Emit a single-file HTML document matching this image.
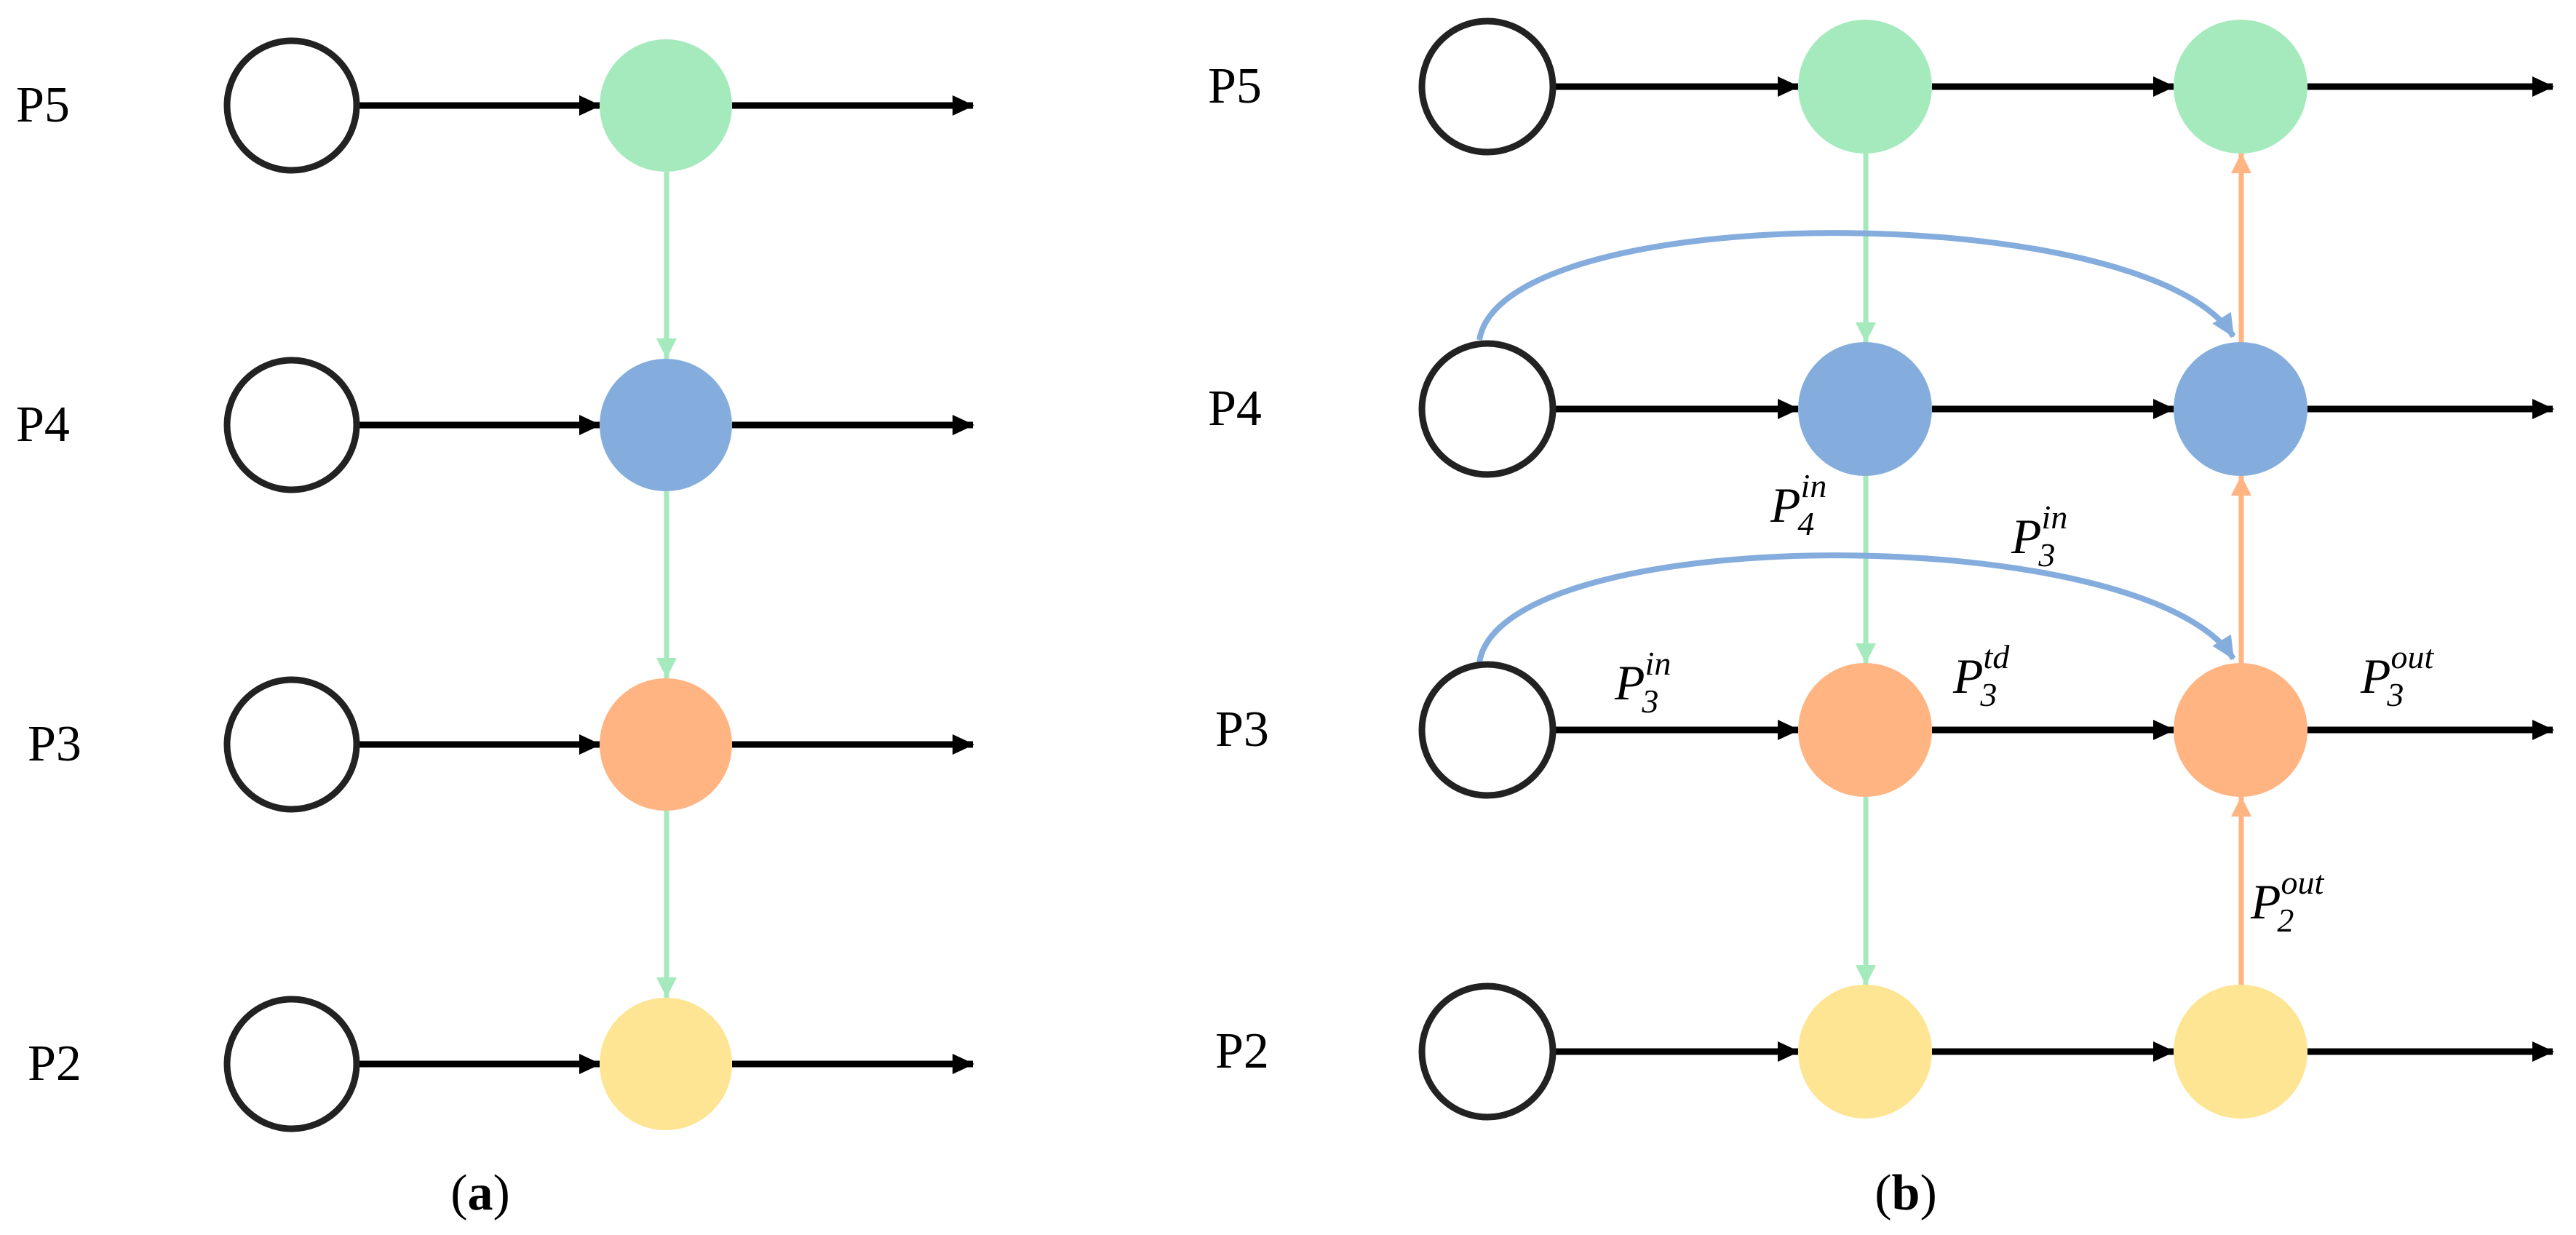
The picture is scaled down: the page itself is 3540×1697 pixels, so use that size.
<!DOCTYPE html>
<html><head><meta charset="utf-8"><style>html,body{margin:0;padding:0;background:#fff}svg{display:block}</style></head>
<body>
<svg width="3540" height="1697" viewBox="0 0 3540 1697" xmlns="http://www.w3.org/2000/svg">
<defs>
<marker id="ab" markerWidth="30" markerHeight="28" refX="28" refY="14" orient="auto" markerUnits="userSpaceOnUse"><path d="M0,0 L30,14 L0,28 z" fill="#000"/></marker>
<marker id="ag" markerWidth="28" markerHeight="28" refX="28" refY="14" orient="auto" markerUnits="userSpaceOnUse"><path d="M0,0 L28,14 L0,28 z" fill="#A5EABD"/></marker>
<marker id="ao" markerWidth="28" markerHeight="28" refX="28" refY="14" orient="auto" markerUnits="userSpaceOnUse"><path d="M0,0 L28,14 L0,28 z" fill="#FFB482"/></marker>
<marker id="abl" markerWidth="32" markerHeight="30" refX="30" refY="15" orient="auto" markerUnits="userSpaceOnUse"><path d="M0,0 L32,15 L0,30 z" fill="#84ADDD"/></marker>
</defs>
<g font-family="Liberation Serif, serif" font-size="70" fill="#000">
<text x="22" y="167">P5</text><text x="22" y="606">P4</text><text x="38" y="1045">P3</text><text x="38" y="1484">P2</text>
<text x="1660" y="141">P5</text><text x="1660" y="584">P4</text><text x="1670" y="1025">P3</text><text x="1670" y="1467">P2</text>
<text x="660" y="1662" text-anchor="middle">(<tspan font-weight="bold">a</tspan>)</text>
<text x="2619" y="1662" text-anchor="middle">(<tspan font-weight="bold">b</tspan>)</text>
</g>
<!-- panel a -->
<g stroke="#000" stroke-width="9">
<line x1="494" y1="145" x2="824" y2="145" marker-end="url(#ab)"/><line x1="1006" y1="145" x2="1337" y2="145" marker-end="url(#ab)"/>
<line x1="494" y1="584" x2="824" y2="584" marker-end="url(#ab)"/><line x1="1006" y1="584" x2="1337" y2="584" marker-end="url(#ab)"/>
<line x1="494" y1="1023" x2="824" y2="1023" marker-end="url(#ab)"/><line x1="1006" y1="1023" x2="1337" y2="1023" marker-end="url(#ab)"/>
<line x1="494" y1="1462" x2="824" y2="1462" marker-end="url(#ab)"/><line x1="1006" y1="1462" x2="1337" y2="1462" marker-end="url(#ab)"/>
</g>
<g stroke="#A5EABD" stroke-width="7">
<line x1="916" y1="236" x2="916" y2="493" marker-end="url(#ag)"/>
<line x1="916" y1="675" x2="916" y2="932" marker-end="url(#ag)"/>
<line x1="916" y1="1114" x2="916" y2="1371" marker-end="url(#ag)"/>
</g>
<g fill="none" stroke="#222" stroke-width="9">
<circle cx="401" cy="145" r="89"/><circle cx="401" cy="584" r="89"/><circle cx="401" cy="1023" r="89"/><circle cx="401" cy="1462" r="89"/>
</g>
<circle cx="915" cy="145" r="91" fill="#A5EABD"/><circle cx="915" cy="584" r="91" fill="#84ADDD"/><circle cx="915" cy="1023" r="91" fill="#FFB482"/><circle cx="915" cy="1462" r="91" fill="#FEE594"/>
<!-- panel b -->
<g stroke="#000" stroke-width="9">
<line x1="2137" y1="119" x2="2471" y2="119" marker-end="url(#ab)"/><line x1="2655" y1="119" x2="2987" y2="119" marker-end="url(#ab)"/><line x1="3171" y1="119" x2="3508" y2="119" marker-end="url(#ab)"/>
<line x1="2137" y1="562" x2="2471" y2="562" marker-end="url(#ab)"/><line x1="2655" y1="562" x2="2987" y2="562" marker-end="url(#ab)"/><line x1="3171" y1="562" x2="3508" y2="562" marker-end="url(#ab)"/>
<line x1="2137" y1="1003" x2="2471" y2="1003" marker-end="url(#ab)"/><line x1="2655" y1="1003" x2="2987" y2="1003" marker-end="url(#ab)"/><line x1="3171" y1="1003" x2="3508" y2="1003" marker-end="url(#ab)"/>
<line x1="2137" y1="1445" x2="2471" y2="1445" marker-end="url(#ab)"/><line x1="2655" y1="1445" x2="2987" y2="1445" marker-end="url(#ab)"/><line x1="3171" y1="1445" x2="3508" y2="1445" marker-end="url(#ab)"/>
</g>
<g stroke="#A5EABD" stroke-width="7">
<line x1="2564" y1="210" x2="2564" y2="471" marker-end="url(#ag)"/>
<line x1="2564" y1="653" x2="2564" y2="912" marker-end="url(#ag)"/>
<line x1="2564" y1="1094" x2="2564" y2="1354" marker-end="url(#ag)"/>
</g>
<g stroke="#FFB482" stroke-width="7">
<line x1="3080" y1="1354" x2="3080" y2="1094" marker-end="url(#ao)"/>
<line x1="3080" y1="912" x2="3080" y2="653" marker-end="url(#ao)"/>
<line x1="3080" y1="471" x2="3080" y2="210" marker-end="url(#ao)"/>
</g>
<g fill="none" stroke="#84ADDD" stroke-width="8">
<path d="M2033,467 C2065,272 2950,272 3069,462" marker-end="url(#abl)"/>
<path d="M2033,910 C2065,715 2950,715 3069,905" marker-end="url(#abl)"/>
</g>
<g fill="none" stroke="#222" stroke-width="9">
<circle cx="2044" cy="119" r="90"/><circle cx="2044" cy="562" r="90"/><circle cx="2044" cy="1003" r="90"/><circle cx="2044" cy="1445" r="90"/>
</g>
<circle cx="2563" cy="119" r="92" fill="#A5EABD"/><circle cx="3079" cy="119" r="92" fill="#A5EABD"/>
<circle cx="2563" cy="562" r="92" fill="#84ADDD"/><circle cx="3079" cy="562" r="92" fill="#84ADDD"/>
<circle cx="2563" cy="1003" r="92" fill="#FFB482"/><circle cx="3079" cy="1003" r="92" fill="#FFB482"/>
<circle cx="2563" cy="1445" r="92" fill="#FEE594"/><circle cx="3079" cy="1445" r="92" fill="#FEE594"/>
<g font-family="Liberation Serif, serif" font-style="italic" fill="#000">
<text x="2433" y="717" font-size="68">P<tspan font-size="46" dy="-34">in</tspan><tspan font-size="46" dx="-40" dy="52">4</tspan></text>
<text x="2764" y="760" font-size="68">P<tspan font-size="46" dy="-34">in</tspan><tspan font-size="46" dx="-40" dy="52">3</tspan></text>
<text x="2219" y="961" font-size="68">P<tspan font-size="46" dy="-34">in</tspan><tspan font-size="46" dx="-40" dy="52">3</tspan></text>
<text x="2684" y="952" font-size="68">P<tspan font-size="46" dy="-34">td</tspan><tspan font-size="46" dx="-40" dy="52">3</tspan></text>
<text x="3244" y="952" font-size="68">P<tspan font-size="46" dy="-34">out</tspan><tspan font-size="46" dx="-64" dy="52">3</tspan></text>
<text x="3093" y="1262" font-size="68">P<tspan font-size="46" dy="-34">out</tspan><tspan font-size="46" dx="-64" dy="52">2</tspan></text>
</g>
</svg>
</body></html>
